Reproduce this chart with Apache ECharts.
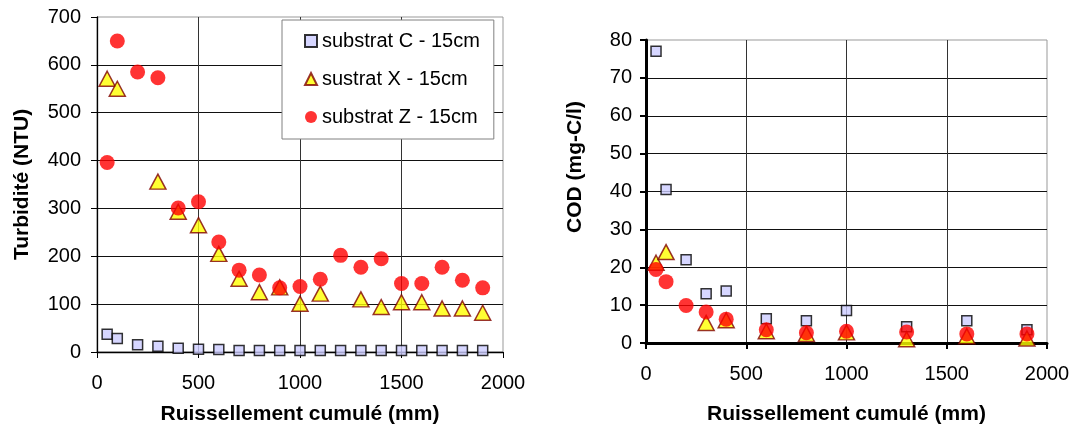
<!DOCTYPE html>
<html>
<head>
<meta charset="utf-8">
<script src="https://cdn.jsdelivr.net/npm/echarts@6/dist/echarts.min.js"></script>
<style>
html, body { margin: 0; padding: 0; background: #fff; }
#chart { width: 1073px; height: 430px; }
</style>
</head>
<body>
<div id="chart"></div>
<script>
// noms des séries
const seriesNames = ["substrat C - 15cm", "sustrat X - 15cm", "substrat Z - 15cm"];

// Turbidité (graphique de gauche)
const turbXC = [50, 100, 200, 300, 400, 500, 600, 700, 800, 900, 1000, 1100, 1200, 1300, 1400, 1500, 1600, 1700, 1800, 1900];
const turbC = [37, 28, 15, 12, 8, 6, 5, 3, 3, 3, 3, 3, 3, 3, 3, 3, 3, 3, 3, 3];
const turbXX = [50, 100, 300, 400, 500, 600, 700, 800, 900, 1000, 1100, 1300, 1400, 1500, 1600, 1700, 1800, 1900];
const turbX = [571, 550, 356, 293, 265, 205, 153, 125, 135, 101, 122, 110, 94, 104, 104, 91, 91, 82];
const turbXZ = [50, 100, 200, 300, 400, 500, 600, 700, 800, 900, 1000, 1100, 1200, 1300, 1400, 1500, 1600, 1700, 1800, 1900];
const turbZ = [396, 650, 585, 573, 301, 314, 230, 171, 161, 134, 137, 152, 202, 177, 195, 143, 143, 177, 150, 134];

// COD (graphique de droite)
const codXC = [50, 100, 200, 300, 400, 600, 800, 1000, 1300, 1600, 1900];
const codC = [77, 40.5, 22, 13, 13.7, 6.4, 5.9, 8.6, 4.3, 5.9, 3.5];
const codXX = [50, 100, 300, 400, 600, 800, 1000, 1300, 1600, 1900];
const codX = [21.2, 24, 5.3, 6, 3.1, 2.4, 2.8, 1, 1.8, 1.2];
const codXZ = [50, 100, 200, 300, 400, 600, 800, 1000, 1300, 1600, 1900];
const codZ = [19.4, 16.2, 9.9, 8.2, 6.3, 3.5, 2.7, 3.1, 2.9, 2.4, 2.4];

const FONT = "Liberation Sans";

function pairs(xs, ys) {
  return xs.map((x, i) => [x, ys[i]]);
}

// styles des marqueurs
const markC = { symbol: "rect", symbolSize: 10, itemStyle: { color: "#ccccff", borderColor: "#000", borderWidth: 1.5 } };
const markX = { symbol: "triangle", symbolSize: [16, 15], itemStyle: { color: "#ffff00", borderColor: "#800000", borderWidth: 1.5 } };
const markZ = { symbol: "circle", symbolSize: 15, itemStyle: { color: "#ff0000" } };

function scatter(name, idx, data, mark) {
  return Object.assign({
    name: name,
    type: "scatter",
    xAxisIndex: idx,
    yAxisIndex: idx,
    data: data,
    emphasis: { disabled: true },
  }, mark);
}

function xAxis(idx, lineW, margin, gap) {
  return {
    gridIndex: idx,
    type: "value",
    min: 0,
    max: 2000,
    interval: 500,
    axisLine: { onZero: false, lineStyle: { color: "#000", width: lineW } },
    axisTick: { length: 6, lineStyle: { color: "#000", width: lineW > 2 ? 2 : 1 } },
    axisLabel: { margin: margin, color: "#000", fontSize: 20, fontFamily: FONT, formatter: (v) => String(v) },
    splitLine: { show: true, showMinLine: false, showMaxLine: false, lineStyle: { color: "#333", width: 1 } },
    name: "Ruissellement cumulé (mm)",
    nameLocation: "middle",
    nameGap: gap,
    nameTextStyle: { color: "#000", fontSize: 21, fontWeight: "bold", fontFamily: FONT },
  };
}

function yAxis(idx, max, interval, lineW, margin) {
  return {
    gridIndex: idx,
    type: "value",
    min: 0,
    max: max,
    interval: interval,
    axisLine: { show: true, onZero: false, lineStyle: { color: "#000", width: lineW } },
    axisTick: { show: true, length: 6, lineStyle: { color: "#000", width: lineW > 2 ? 2 : 1 } },
    axisLabel: { margin: margin, color: "#000", fontSize: 20, fontFamily: FONT, formatter: (v) => String(v) },
    splitLine: { show: true, showMinLine: false, showMaxLine: false, lineStyle: { color: "#111", width: 1 } },
  };
}

const myChart = echarts.init(document.getElementById("chart"));

const yLeft = yAxis(0, 700, 100, 1.3, 16);
yLeft.name = "Turbidité (NTU)";
yLeft.nameLocation = "middle";
yLeft.nameGap = 64;
yLeft.nameTextStyle = { color: "#000", fontSize: 21, fontWeight: "bold", fontFamily: FONT };

const option = {
  animation: false,
  grid: [
    { left: 97, top: 17, width: 406, height: 337, show: true, borderColor: "#999", borderWidth: 1, backgroundColor: "#fff" },
    { left: 646, top: 40, width: 401, height: 305, show: true, borderColor: "#999", borderWidth: 1, backgroundColor: "#fff" },
  ],
  legend: {
    data: seriesNames,
    orient: "vertical",
    left: 282,
    top: 20,
    itemWidth: 12,
    itemHeight: 12,
    itemGap: 18,
    padding: [11, 14, 12, 22],
    backgroundColor: "#fff",
    borderColor: "#808080",
    borderWidth: 1,
    textStyle: { color: "#000", fontSize: 20, fontFamily: FONT },
    selectedMode: false,
  },
  xAxis: [xAxis(0, 1.3, 21, 52), xAxis(1, 3, 21, 61)],
  yAxis: [yLeft, yAxis(1, 80, 10, 3, 14)],
  graphic: [
    {
      type: "text",
      x: 575,
      y: 167,
      rotation: Math.PI / 2,
      style: { text: "COD (mg-C/l)", font: "bold 21px " + FONT, fill: "#000", align: "center", verticalAlign: "middle" },
    },
  ],
  series: [
    scatter(seriesNames[0], 0, pairs(turbXC, turbC), markC),
    scatter(seriesNames[1], 0, pairs(turbXX, turbX), markX),
    scatter(seriesNames[2], 0, pairs(turbXZ, turbZ), markZ),
    scatter(seriesNames[0], 1, pairs(codXC, codC), markC),
    scatter(seriesNames[1], 1, pairs(codXX, codX), markX),
    scatter(seriesNames[2], 1, pairs(codXZ, codZ), markZ),
  ],
};

myChart.setOption(option);
</script>
</body>
</html>
